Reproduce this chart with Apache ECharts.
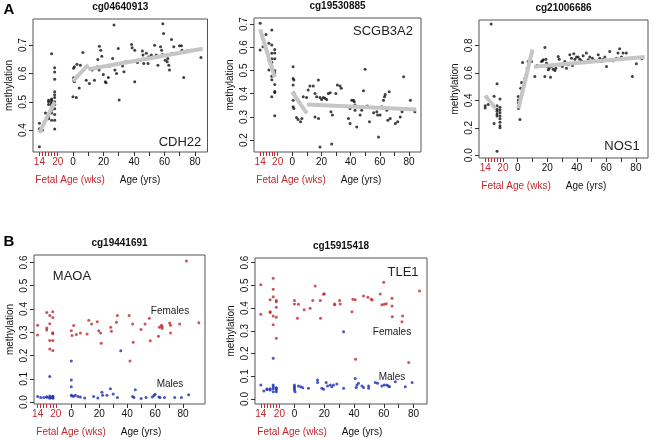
<!DOCTYPE html>
<html>
<head>
<meta charset="utf-8">
<script src="https://cdn.jsdelivr.net/npm/echarts@6/dist/echarts.min.js"></script>
<style>
html, body { margin: 0; padding: 0; background: #fff; }
#main { width: 656px; height: 440px; }
</style>
</head>
<body>
<div id="main"></div>
<script>
var FONT = '"Liberation Sans", Arial, sans-serif';
var RED = '#c0282e';
var BLUE = '#1a2eb4';

// axis ticks
var fetalTicks = [14, 15, 16, 17, 18, 19, 20];
var fetalLabels = [14, 20];
var ageTicks = [0, 10, 20, 30, 40, 50, 60, 70, 80];
var ageLabels = [0, 20, 40, 60, 80];

// ---- A: cg04640913 (CDH22) ----  fetal = [week, methylation], adult = [age, methylation]
var a1Fetal = [[14,0.424],[14,0.405],[14,0.341],[15,0.40],[16,0.46],[17,0.505],[17,0.49],[17,0.455],[17,0.445],[17,0.44],[17,0.50],
  [18,0.67],[18,0.51],[18,0.505],[18,0.50],[18,0.495],[18,0.49],[18,0.48],[18,0.47],[18,0.46],[18,0.435],[18,0.485],
  [19,0.62],[19,0.605],[19,0.58],[19,0.535],[19,0.525],[19,0.515],[19,0.50],[19,0.49],[19,0.475],[19,0.455],[19,0.435],[19,0.404]];
var a1Adult = [[0.4,0.618],[0.9,0.624],[2.6,0.633],[4.8,0.629],[6.5,0.674],[0.4,0.585],[0.4,0.576],[0.9,0.571],[0,0.518],[2.2,0.515],
  [4.1,0.549],[8.7,0.576],[10.8,0.565],[12.6,0.612],[14.1,0.576],[16.3,0.649],[17.3,0.696],[18.2,0.682],[18.9,0.661],[16,0.624],
  [17.1,0.612],[19.9,0.596],[21.2,0.571],[21.7,0.567],[23.2,0.586],[24.1,0.626],[26,0.653],[26.9,0.771],[27.5,0.612],[28.6,0.6],
  [29.7,0.688],[30.3,0.506],[32.5,0.626],[33.4,0.606],[34.7,0.641],[38.4,0.702],[38.8,0.691],[40.5,0.682],[40.5,0.571],[41.6,0.644],
  [42.3,0.639],[43.8,0.647],[45.5,0.679],[45.9,0.665],[46.4,0.635],[48.1,0.671],[49.2,0.635],[49.8,0.659],[51.4,0.665],[53.5,0.7],
  [54.6,0.665],[55.7,0.629],[57.4,0.694],[58.1,0.682],[58.7,0.667],[58.9,0.776],[59.4,0.741],[60.5,0.647],[61.8,0.641],[62.2,0.653],
  [62.8,0.629],[63.3,0.612],[64.6,0.72],[65,0.671],[66.1,0.694],[69.8,0.698],[71.1,0.698],[71.5,0.682],[72.6,0.586],[75.2,0.68],
  [77.4,0.682],[83.9,0.656]];
var a1FetalTrend = [[14,0.39],[19,0.50]];
var a1YoungTrend = [[0,0.573],[10,0.63]];
var a1OldTrend = [[10,0.615],[85,0.687]];

// ---- A: cg19530885 (SCGB3A2) ----
var a2Fetal = [[14,0.703],[14,0.588],[15,0.602],[16,0.655],[17,0.617],[17,0.545],[17,0.502],
  [18,0.674],[18,0.574],[18,0.61],[18,0.55],[18,0.535],[18,0.52],[18,0.475],[18,0.46],[18,0.387],
  [19,0.59],[19,0.575],[19,0.55],[19,0.5],[19,0.49],[19,0.485],[19,0.44],[19,0.41],[19,0.405],[19,0.305]];
var a2Adult = [[0.6,0.516],[0.6,0.466],[1.1,0.459],[0.6,0.437],[1.1,0.404],[0.6,0.372],[0.6,0.344],[1.1,0.336],[2.9,0.298],[4,0.289],
  [5.7,0.279],[6.6,0.293],[7.5,0.387],[9.8,0.384],[10.9,0.416],[12.1,0.433],[14.4,0.433],[15.6,0.401],[16.7,0.387],[15.6,0.3],
  [17.9,0.459],[19,0.171],[18,0.293],[19,0.384],[20.1,0.375],[21.3,0.384],[22.4,0.38],[23.6,0.375],[24.7,0.401],[26,0.404],
  [27,0.183],[26.5,0.322],[27.5,0.308],[29.9,0.401],[30.9,0.437],[32.7,0.433],[33.6,0.423],[38.5,0.293],[39.6,0.272],[39.6,0.336],
  [40.8,0.372],[41.9,0.372],[42.5,0.365],[43,0.351],[43,0.329],[44.2,0.257],[45.3,0.344],[46.5,0.308],[47.6,0.329],[48.8,0.413],
  [49.9,0.505],[50.6,0.344],[51.5,0.347],[52.9,0.279],[55.7,0.318],[56.8,0.341],[57.9,0.322],[58.5,0.308],[59.1,0.214],[60.2,0.308],
  [61.4,0.344],[62.5,0.372],[63.2,0.387],[63.7,0.397],[64.8,0.329],[65.5,0.286],[66.4,0.408],[67.1,0.293],[70.6,0.272],[72.2,0.279],
  [74,0.3],[75.2,0.322],[76.3,0.473],[80.9,0.372],[84,0.322]];
var a2FetalTrend = [[14,0.677],[19,0.47]];
var a2YoungTrend = [[0,0.408],[10,0.315]];
var a2OldTrend = [[10,0.354],[85,0.332]];

// ---- A: cg21006686 (NOS1) ----
var a3Fetal = [[14,0.36],[14,0.345],[15,0.37],[16,0.955],[17,0.43],[17,0.232],
  [18,0.52],[18,0.36],[18,0.335],[18,0.32],[18,0.30],[18,0.285],[18,0.03],
  [19,0.41],[19,0.35],[19,0.33],[19,0.31],[19,0.285],[19,0.265],[19,0.24],[19,0.215],[19,0.20]];
var a3Adult = [[0.4,0.427],[0.4,0.402],[0.4,0.383],[0.4,0.359],[0.6,0.341],[1.5,0.261],[2,0.488],[2.6,0.529],[3.3,0.676],[4.9,0.56],
  [5.3,0.544],[6.5,0.634],[7.1,0.683],[9.4,0.683],[11.6,0.573],[13.2,0.654],[13.9,0.646],[15,0.646],[16.1,0.683],[16.8,0.688],
  [17.3,0.695],[18.4,0.785],[18.4,0.573],[19.1,0.7],[19.5,0.671],[20,0.646],[20.7,0.622],[21.3,0.634],[22.2,0.568],[22.9,0.646],
  [24,0.627],[25.2,0.617],[25.8,0.634],[27.4,0.72],[28.1,0.7],[28.5,0.659],[29.7,0.659],[30.3,0.646],[31.9,0.683],[33,0.634],
  [34.2,0.659],[35.3,0.732],[36.4,0.707],[37.1,0.654],[38,0.739],[38.7,0.7],[39.8,0.715],[40.9,0.715],[42,0.7],[43.2,0.688],
  [44.3,0.724],[46.5,0.744],[47.7,0.695],[48.8,0.715],[50.6,0.707],[52.2,0.688],[54.5,0.732],[55.6,0.707],[56.7,0.683],[57.8,0.7],
  [59,0.715],[60.1,0.646],[62.3,0.756],[63.4,0.7],[64.5,0.688],[66.8,0.707],[67.9,0.744],[69,0.776],[70.2,0.715],[71.3,0.744],
  [73.5,0.744],[77.6,0.573],[80.3,0.666],[84,0.702]];
var a3FetalTrend = [[14,0.435],[17.5,0.34]];
var a3YoungTrend = [[0.5,0.34],[10,0.77]];
var a3OldTrend = [[11,0.645],[86,0.715]];

// ---- B: cg19441691 (MAOA) ----
var b1FemaleFetal = [[14,0.33],[14,0.288],[17,0.385],[17,0.318],[17,0.31],[18,0.372],[18,0.337],[18,0.265],[18,0.228],
  [19,0.388],[19,0.364],[19,0.298],[19,0.294],[19,0.265],[19,0.222]];
var b1FemaleAdult = [[0,0.307],[0.5,0.286],[1.7,0.329],[3.6,0.29],[6.5,0.297],[11.3,0.293],[12.5,0.352],[14.5,0.336],[18.6,0.345],
  [19.6,0.307],[21,0.297],[21.4,0.253],[28.2,0.322],[28.7,0.305],[32.3,0.343],[33,0.372],[41.4,0.372],[42,0.177],[43.9,0.336],
  [44.3,0.257],[49.9,0.312],[52.8,0.336],[55.9,0.36],[56.5,0.264],[62.4,0.283],[63.1,0.322],[64.5,0.33],[65,0.316],[65,0.325],
  [70.4,0.34],[71,0.33],[71,0.297],[77.6,0.336],[82.4,0.606],[91.3,0.341]];
var b1MaleFetal = [[14,0.024],[15,0.02],[16,0.02],[17,0.021],[17,0.023],[18,0.11],[18,0.026],[18,0.02],[18,0.017],
  [19,0.025],[19,0.02],[19,0.017],[19,0.023]];
var b1MaleAdult = [[0,0.177],[0,0.095],[0,0.066],[0,0.03],[0.5,0.026],[1.7,0.025],[2.9,0.03],[4.8,0.024],[6.5,0.022],[9.6,0.018],
  [16,0.024],[19,0.018],[21.9,0.043],[22.4,0.03],[25.5,0.03],[28,0.057],[30,0.035],[33,0.02],[35.4,0.221],[43.9,0.024],
  [44.8,0.02],[45.8,0.053],[50,0.016],[53.5,0.02],[58,0.022],[59.2,0.028],[60,0.034],[62.7,0.022],[63.5,0.02],[66.7,0.02],
  [74,0.02],[78.8,0.02],[84,0.032]];

// ---- B: cg15915418 (TLE1) ----
var b2FemaleFetal = [[14,0.502],[14,0.373],[17,0.436],[17,0.384],[17,0.38],[18,0.531],[18,0.483],[18,0.45],[18,0.365],[18,0.326],
  [19,0.433],[19,0.428],[19,0.403],[19,0.359],[19,0.267]];
var b2FemaleAdult = [[0,0.433],[0,0.418],[2,0.355],[2.7,0.417],[6.5,0.392],[10.5,0.399],[12.3,0.433],[13.9,0.497],[17.3,0.433],
  [17.5,0.355],[19.5,0.461],[20,0.463],[26.9,0.418],[27.1,0.414],[30.3,0.433],[30.7,0.418],[38.6,0.384],[39.2,0.439],[40.8,0.436],
  [41,0.175],[46.4,0.453],[49.3,0.447],[51.6,0.439],[52.2,0.435],[57.6,0.462],[58.7,0.414],[59.9,0.513],[60.3,0.417],[61.7,0.419],
  [65.5,0.443],[65.5,0.409],[65.7,0.362],[72.2,0.34],[72.6,0.365],[76.7,0.16],[84,0.475]];
var b2MaleFetal = [[14,0.062],[15,0.035],[16,0.044],[16,0.042],[17,0.04],[17,0.045],[18,0.179],[18,0.062],[18,0.054],[18,0.045],
  [18,0.032],[19,0.047],[19,0.04],[19,0.032],[19,0.05]];
var b2MaleAdult = [[0,0.062],[0,0.054],[0,0.047],[0,0.04],[0.4,0.032],[2.7,0.057],[4.3,0.054],[5.6,0.05],[9.4,0.047],[15.5,0.084],
  [15.5,0.072],[18.4,0.047],[19.5,0.043],[21.3,0.072],[22.2,0.057],[24,0.062],[25.1,0.054],[26.2,0.062],[28.5,0.066],[33,0.047],
  [33,0.296],[40.8,0.09],[41.5,0.051],[42,0.062],[43,0.069],[45.3,0.057],[46.4,0.051],[49.8,0.057],[49.8,0.047],[54.3,0.072],
  [55.8,0.069],[58.7,0.057],[60.3,0.062],[62,0.062],[63.1,0.057],[63.8,0.054],[67.7,0.076],[74.4,0.054],[79,0.072]];

// panel layout: box = [left, top, right, bottom] in px; fetal weeks are drawn at f14 + (wk-14)*perWk on the age scale
var panels = [
  { title: 'cg04640913', gene: 'CDH22', genePos: [180, 142], box: [33, 19, 207.5, 152],
    xMin: -26.2, xMax: 88.2, yMin: 0.3226, yMax: 0.7924, yTicks: [0.4, 0.5, 0.6, 0.7], f14: -22, perWk: 2,
    groups: [{ fetal: a1Fetal, adult: a1Adult, color: '#111' }], trends: [a1FetalTrend, a1YoungTrend, a1OldTrend] },
  { title: 'cg19530885', gene: 'SCGB3A2', genePos: [383, 31], box: [254, 18, 421, 152],
    xMin: -26.2, xMax: 88.2, yMin: 0.149, yMax: 0.726, yTicks: [0.2, 0.3, 0.4, 0.5, 0.6, 0.7], f14: -22, perWk: 2,
    groups: [{ fetal: a2Fetal, adult: a2Adult, color: '#111' }], trends: [a2FetalTrend, a2YoungTrend, a2OldTrend] },
  { title: 'cg21006686', gene: 'NOS1', genePos: [622, 146], box: [479, 20, 648, 158],
    xMin: -26.2, xMax: 88.2, yMin: -0.02, yMax: 0.985, yTicks: [0, 0.2, 0.4, 0.6, 0.8], f14: -22, perWk: 2,
    groups: [{ fetal: a3Fetal, adult: a3Adult, color: '#111' }], trends: [a3FetalTrend, a3YoungTrend, a3OldTrend] },
  { title: 'cg19441691', gene: 'MAOA', genePos: [72, 276], box: [34, 255, 205, 404],
    xMin: -26.7, xMax: 95.7, yMin: -0.008, yMax: 0.632, yTicks: [0, 0.1, 0.2, 0.3, 0.4, 0.5, 0.6], f14: -24.1, perWk: 2.17,
    groups: [{ fetal: b1FemaleFetal, adult: b1FemaleAdult, color: RED }, { fetal: b1MaleFetal, adult: b1MaleAdult, color: BLUE }],
    trends: [], notes: [['Females', 170, 311], ['Males', 170, 384]] },
  { title: 'cg15915418', gene: 'TLE1', genePos: [403, 272], box: [255, 258, 427, 404],
    xMin: -26.5, xMax: 89, yMin: -0.022, yMax: 0.62, yTicks: [0, 0.1, 0.2, 0.3, 0.4, 0.5, 0.6], f14: -22.6, perWk: 2.08,
    groups: [{ fetal: b2FemaleFetal, adult: b2FemaleAdult, color: RED }, { fetal: b2MaleFetal, adult: b2MaleAdult, color: BLUE }],
    trends: [], notes: [['Females', 392, 332], ['Males', 392, 377]] }
];

var grids = [], xAxes = [], yAxes = [], series = [], texts = [];

function txt(s, x, y, color, font, align) {
  texts.push({ type: 'text', silent: true, style: { text: s, x: x, y: y, fill: color, font: font, align: align || 'center', verticalAlign: 'middle' } });
}

panels.forEach(function (p, i) {
  var toX = function (wk) { return p.f14 + (wk - 14) * p.perWk; };
  var b = p.box;
  grids.push({ left: b[0], top: b[1], width: b[2] - b[0], height: b[3] - b[1], show: true,
    borderColor: '#555', borderWidth: 1, containLabel: false, outerBoundsMode: 'none' });

  // age axis (black)
  xAxes.push({ gridIndex: i, type: 'value', min: p.xMin, max: p.xMax, position: 'bottom',
    axisLine: { show: false, onZero: false }, splitLine: { show: false },
    axisTick: { show: true, inside: false, length: 4, customValues: ageTicks, lineStyle: { color: '#333' } },
    axisLabel: { customValues: ageLabels, color: '#111', fontSize: 10, fontFamily: FONT, margin: 5 } });
  // fetal axis (red), same scale
  xAxes.push({ gridIndex: i, type: 'value', min: p.xMin, max: p.xMax, position: 'bottom',
    axisLine: { show: false, onZero: false }, splitLine: { show: false },
    axisTick: { show: true, inside: false, length: 4, customValues: fetalTicks.map(toX), lineStyle: { color: RED } },
    axisLabel: { customValues: fetalLabels.map(toX), color: RED, fontSize: 10, fontFamily: FONT, margin: 5,
      formatter: function (v) { return String(Math.round((v - p.f14) / p.perWk + 14)); } } });

  yAxes.push({ gridIndex: i, type: 'value', min: p.yMin, max: p.yMax,
    axisLine: { show: false, onZero: false }, splitLine: { show: false },
    axisTick: { show: true, inside: false, length: 4, customValues: p.yTicks, lineStyle: { color: '#333' } },
    axisLabel: { customValues: p.yTicks, rotate: 90, color: '#111', fontSize: 10, fontFamily: FONT, margin: 5,
      formatter: function (v) { return v.toFixed(1); } },
    name: 'methylation', nameLocation: 'middle', nameGap: 19,
    nameTextStyle: { color: '#111', fontSize: 10, fontFamily: FONT } });

  p.groups.forEach(function (g) {
    series.push({ type: 'scatter', xAxisIndex: 2 * i, yAxisIndex: i, symbolSize: 3, silent: true,
      itemStyle: { color: g.color },
      data: g.fetal.map(function (d) { return [toX(d[0]), d[1]]; }).concat(g.adult) });
  });
  p.trends.forEach(function (t, k) {
    series.push({ type: 'line', xAxisIndex: 2 * i, yAxisIndex: i, symbol: 'none', silent: true,
      lineStyle: { color: '#c6c6c6', width: 4 },
      data: k === 0 ? t.map(function (d) { return [toX(d[0]), d[1]]; }) : t });
  });

  txt(p.title, (b[0] + b[2]) / 2, b[1] - 12, '#111', 'bold 10px ' + FONT);
  txt(p.gene, p.genePos[0], p.genePos[1], '#222', '13px ' + FONT);
  txt('Fetal Age (wks)', b[0] + 37, b[3] + 28, RED, '10px ' + FONT);
  txt('Age (yrs)', b[0] + 107, b[3] + 28, '#111', '10px ' + FONT);
  (p.notes || []).forEach(function (n) { txt(n[0], n[1], n[2], '#222', '10px ' + FONT); });
});

txt('A', 9, 10, '#000', 'bold 15px ' + FONT);
txt('B', 9, 242, '#000', 'bold 15px ' + FONT);

var myChart = echarts.init(document.getElementById('main'));
myChart.setOption({
  animation: false,
  backgroundColor: '#fff',
  grid: grids,
  xAxis: xAxes,
  yAxis: yAxes,
  series: series,
  graphic: texts
});
</script>
</body>
</html>
